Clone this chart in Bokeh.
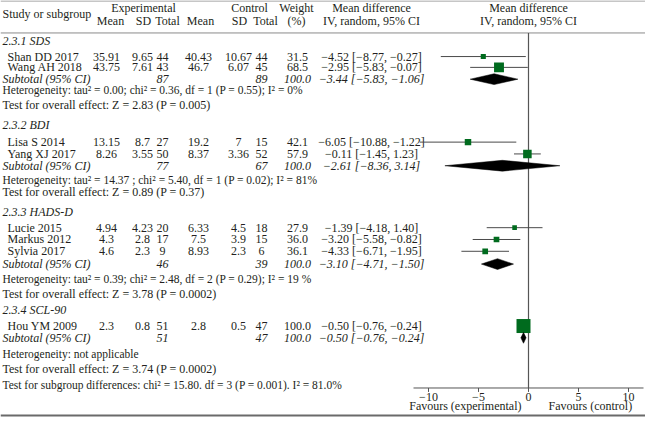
from bokeh.plotting import figure
from bokeh.models import Range1d
from bokeh.core.properties import value
from bokeh.embed import file_html
from bokeh.resources import INLINE

# ---------------- data ----------------
group_titles = ["2.3.1 SDS", "2.3.2 BDI", "2.3.3 HADS-D", "2.3.4 SCL-90"]
study_names = ["Shan DD 2017", "Wang AH 2018", "Lisa S 2014", "Yang XJ 2017",
               "Lucie 2015", "Markus 2012", "Sylvia 2017", "Hou YM 2009"]
exp_mean = [35.91, 43.75, 13.15, 8.26, 4.94, 4.3, 4.6, 2.3]
exp_sd = [9.65, 7.61, 8.7, 3.55, 4.23, 2.8, 2.3, 0.8]
exp_n = [44, 43, 27, 50, 20, 17, 9, 51]
ctl_mean = [40.43, 46.7, 19.2, 8.37, 6.33, 7.5, 8.93, 2.8]
ctl_sd = [10.67, 6.07, 7, 3.36, 4.5, 3.9, 2.3, 0.5]
ctl_n = [44, 45, 15, 52, 18, 15, 6, 47]
weight = [31.5, 68.5, 42.1, 57.9, 27.9, 36.0, 36.1, 100.0]
md = [-4.52, -2.95, -6.05, -0.11, -1.39, -3.20, -4.33, -0.50]
md_lo = [-8.77, -5.83, -10.88, -1.45, -4.18, -5.58, -6.71, -0.76]
md_hi = [-0.27, -0.07, -1.22, 1.23, 1.40, -0.82, -1.95, -0.24]

sub_exp_n = [87, 77, 46, 51]
sub_ctl_n = [89, 67, 39, 47]
sub_weight = [100.0, 100.0, 100.0, 100.0]
sub_md = [-3.44, -2.61, -3.10, -0.50]
sub_lo = [-5.83, -8.36, -4.71, -0.76]
sub_hi = [-1.06, 3.14, -1.50, -0.24]

heterogeneity = [
    "Heterogeneity: tau\u00b2 = 0.00; chi\u00b2 = 0.36, df = 1 (P = 0.55); I\u00b2 = 0%",
    "Heterogeneity: tau\u00b2 = 14.37 ; chi\u00b2 = 5.40, df = 1 (P = 0.02); I\u00b2 = 81%",
    "Heterogeneity: tau\u00b2 = 0.39; chi\u00b2 = 2.48, df = 2 (P = 0.29); I\u00b2 = 19 %",
    "Heterogeneity: not applicable",
]
overall_test = [
    "Test for overall effect: Z = 2.83 (P = 0.005)",
    "Test for overall effect: Z = 0.89 (P = 0.37)",
    "Test for overall effect: Z = 3.78 (P = 0.0002)",
    "Test for overall effect: Z = 3.74 (P = 0.0002)",
]
subgroup_test = "Test for subgroup differences: chi\u00b2 = 15.80. df = 3 (P = 0.001). I\u00b2 = 81.0%"

tick_values = [-10, -5, 0, 5, 10]
tick_labels = ["\u221210", "\u22125", "0", "5", "10"]
favours_left = "Favours (experimental)"
favours_right = "Favours (control)"

# ---------------- layout (row / column positions, page pixels) ----------------
title_y = [41, 127, 215, 315]
study_y = [57, 68, 144, 156, 231, 243, 255, 331]
sub_y = [80, 168, 268, 343]
het_y = [91, 183, 283, 359]
test_y = [106, 195, 298, 375]
subdiff_y = 391
axis_y = 394
ticklab_y = 403.5
favours_y = 412
bottom_rule_y = 422

COL = dict(name=7, left=2, em=106, esd=142, en=162, cm=198, csd=238, cn=261, w=297, mdt=371, plot=528)

FONT = value("Liberation Serif")
FS = "12px"
FS_NOTE = "11.5px"
TXT = "#231f20"
GREEN = "#006b1e"


def fmt_num(v):
    return f"{v:g}"


def fmt_md(m, l, h):
    return f"{m:.2f} [{l:.2f}, {h:.2f}]".replace("-", "\u2212")


p = figure(width=645, height=417,
           x_range=Range1d(-52.8, 11.7), y_range=Range1d(424, 0),
           output_backend="svg", toolbar_location=None,
           x_axis_location=None, y_axis_location=None, min_border=0)
p.extra_x_ranges = {"px": Range1d(0, 645)}
p.grid.visible = False
p.outline_line_color = None
p.background_fill_color = "white"
p.border_fill_color = "white"


def txt(xs, ys, texts, align="center", style="normal", rng="px", size=FS):
    p.text(x=xs, y=ys, text=texts, x_range_name=rng if rng else "default",
           text_font=FONT, text_font_size=size, text_align=align,
           text_baseline="middle", text_color=TXT, text_font_style=style)


# rules
p.segment(x0=[0, 0], y0=[0.5, 33], x1=[661, 661], y1=[0.5, 33],
          x_range_name="px", line_color="#8a8a8a", line_width=1)
p.segment(x0=[0], y0=[bottom_rule_y], x1=[661], y1=[bottom_rule_y],
          x_range_name="px", line_color="#6a6a6a", line_width=2)

# headers
txt([143, 249, 296, COL["mdt"], COL["plot"]], [8] * 5,
    ["Experimental", "Control", "Weight", "Mean difference", "Mean difference"])
txt([110, 143, 167, 200, 239, 265, 296, COL["mdt"], COL["plot"]], [21] * 9,
    ["Mean", "SD", "Total", "Mean", "SD", "Total", "(%)",
     "IV, random, 95% CI", "IV, random, 95% CI"])
txt([2], [14], ["Study or subgroup"], align="left")

# group titles
txt([COL["left"]] * len(group_titles), title_y, group_titles, align="left", style="italic")

# study rows
n = len(study_names)
txt([COL["name"]] * n, study_y, study_names, align="left")
txt([COL["em"]] * n, study_y, [fmt_num(v) for v in exp_mean])
txt([COL["esd"]] * n, study_y, [fmt_num(v) for v in exp_sd])
txt([COL["en"]] * n, study_y, [fmt_num(v) for v in exp_n])
txt([COL["cm"]] * n, study_y, [fmt_num(v) for v in ctl_mean])
txt([COL["csd"]] * n, study_y, [fmt_num(v) for v in ctl_sd])
txt([COL["cn"]] * n, study_y, [fmt_num(v) for v in ctl_n])
txt([COL["w"]] * n, study_y, [f"{w:.1f}" for w in weight])
txt([COL["mdt"]] * n, study_y, [fmt_md(m, l, h) for m, l, h in zip(md, md_lo, md_hi)])

# subtotal rows
g = len(group_titles)
txt([COL["left"]] * g, sub_y, ["Subtotal (95% CI)"] * g, align="left", style="italic")
txt([COL["en"]] * g, sub_y, [fmt_num(v) for v in sub_exp_n], style="italic")
txt([COL["cn"]] * g, sub_y, [fmt_num(v) for v in sub_ctl_n], style="italic")
txt([COL["w"]] * g, sub_y, [f"{w:.1f}" for w in sub_weight], style="italic")
txt([COL["mdt"]] * g, sub_y, [fmt_md(m, l, h) for m, l, h in zip(sub_md, sub_lo, sub_hi)], style="italic")

# heterogeneity / tests
txt([COL["left"]] * g, het_y, heterogeneity, align="left", size=FS_NOTE)
txt([COL["left"]] * g, test_y, overall_test, align="left")
txt([COL["left"]], [subdiff_y], [subgroup_test], align="left", size=FS_NOTE)

# ---------------- forest plot (mean-difference scale) ----------------
p.segment(x0=[0], y0=[33], x1=[0], y1=[axis_y], line_color="#555555", line_width=1.2)
p.segment(x0=md_lo, y0=study_y, x1=md_hi, y1=study_y, line_color="#4a4a4a", line_width=1)
sizes = [0.13 * w + 1 for w in weight]
p.rect(x=md, y=study_y, width=sizes, height=sizes, width_units="screen",
       height_units="screen", fill_color=GREEN, line_color=None)
half = 5.5
p.patches(xs=[[l, m, h, m] for l, m, h in zip(sub_lo, sub_md, sub_hi)],
          ys=[[y, y - half, y, y + half] for y in sub_y],
          fill_color="black", line_color="black", line_width=0.5)

# axis drawn on the data scale
p.segment(x0=[-11.5], y0=[axis_y], x1=[11.5], y1=[axis_y], line_color="#555555", line_width=1)
p.segment(x0=tick_values, y0=[axis_y] * len(tick_values), x1=tick_values,
          y1=[axis_y + 4] * len(tick_values), line_color="#555555", line_width=1)
p.text(x=tick_values, y=[ticklab_y] * len(tick_values), text=tick_labels, text_font=FONT,
       text_font_size=FS, text_align="center", text_baseline="middle", text_color=TXT)
p.text(x=[-0.7], y=[favours_y], text=[favours_left], text_font=FONT, text_font_size=FS,
       text_align="right", text_baseline="middle", text_color=TXT)
p.text(x=[2.0], y=[favours_y], text=[favours_right], text_font=FONT, text_font_size=FS,
       text_align="left", text_baseline="middle", text_color=TXT)

open("out.html", "w").write(file_html(p, INLINE))
